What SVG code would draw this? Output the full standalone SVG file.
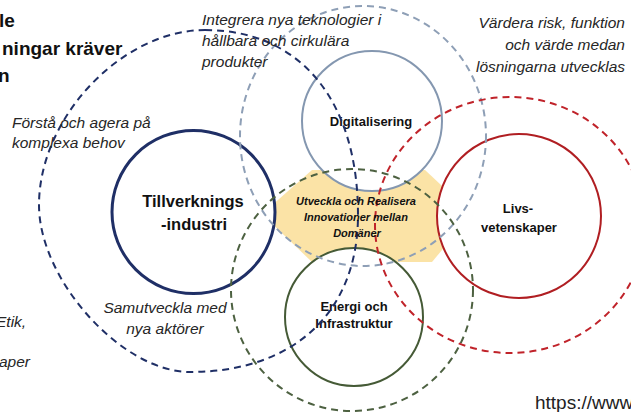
<svg xmlns="http://www.w3.org/2000/svg" width="631" height="412" viewBox="0 0 631 412">
<style>
.bg{fill:#ffffff}
.node{fill:#ffffff}
.lbl{font-family:"Liberation Sans",Arial,sans-serif;font-weight:bold;fill:#111;text-anchor:middle}
.it{font-family:"Liberation Sans",Arial,sans-serif;font-style:italic;font-size:15.5px;fill:#262626}
.title{font-family:"Liberation Sans",Arial,sans-serif;font-weight:bold;font-size:19px;fill:#111}
.dash{fill:none;stroke-width:2;stroke-dasharray:7 5}
</style>
<rect class="bg" x="0" y="0" width="631" height="412"/>

<g id="innovation">
  <polygon points="262,214 312,170 425,170 472,214 432,262 312,262" fill="#fbe3a6"/>
</g>

<g id="tillverkning">
  <circle class="node" cx="193.5" cy="212" r="81.5" stroke="#1f2f66" stroke-width="3"/>
  <text class="lbl" x="193" y="207" font-size="16.5">Tillverknings</text>
  <text class="lbl" x="194" y="230" font-size="16.5">-industri</text>
</g>
<g id="digitalisering">
  <circle class="node" cx="372" cy="121" r="70" stroke="#8497b0" stroke-width="2"/>
  <text class="lbl" x="371" y="126" font-size="13">Digitalisering</text>
</g>
<g id="livsvetenskaper">
  <circle class="node" cx="519" cy="216" r="82" stroke="#b01e22" stroke-width="2"/>
  <text class="lbl" x="518" y="213" font-size="13">Livs-</text>
  <text class="lbl" x="519" y="232" font-size="13">vetenskaper</text>
</g>
<g id="energi">
  <circle class="node" cx="354" cy="317" r="69" stroke="#455a36" stroke-width="2"/>
  <text class="lbl" x="354" y="311" font-size="13">Energi och</text>
  <text class="lbl" x="354" y="328" font-size="13">Infrastruktur</text>
</g>

<g id="zones">
  <ellipse class="dash" cx="363" cy="136" rx="123" ry="130" stroke="#8e9fb6"/>
  <circle class="dash" cx="352" cy="290" r="121" stroke="#4d6141"/>
  <ellipse class="dash" cx="510" cy="225" rx="135" ry="128" stroke="#c0232a"/>
  <path class="dash" d="M205,30 C300,30 358,100 358,215 C358,312 294,372 190,372 C122,372 39,280 39,205 C39,117.5 122,30 205,30 Z" stroke="#1f2f66"/>
</g>

<g id="innovation-label">
  <text class="lbl" font-style="italic" font-size="11" x="356" y="205">Utveckla och Realisera</text>
  <text class="lbl" font-style="italic" font-size="11" x="356" y="221">Innovationer mellan</text>
  <text class="lbl" font-style="italic" font-size="11" x="357" y="237">Domäner</text>
</g>

<g id="texts">
  <text class="title" x="-1" y="27">le</text>
  <text class="title" x="2" y="55">ningar kräver</text>
  <text class="title" x="-2" y="82">n</text>
  <text class="it" x="12" y="128">Förstå och agera på</text>
  <text class="it" x="12" y="148">komplexa behov</text>
  <text class="it" x="202" y="25">Integrera nya teknologier i</text>
  <text class="it" x="202" y="46">hållbara och cirkulära</text>
  <text class="it" x="202" y="67">produkter</text>
  <text class="it" x="625" y="28" text-anchor="end">Värdera risk, funktion</text>
  <text class="it" x="625" y="50" text-anchor="end">och värde medan</text>
  <text class="it" x="625" y="72" text-anchor="end">lösningarna utvecklas</text>
  <text class="it" x="165" y="313" text-anchor="middle">Samutveckla med</text>
  <text class="it" x="165" y="334" text-anchor="middle">nya aktörer</text>
  <text class="it" x="-4" y="327">Etik,</text>
  <text class="it" x="-1" y="367">aper</text>
  <text x="535" y="409" font-family="Liberation Sans,Arial,sans-serif" font-size="19" fill="#222">https://www</text>
</g>
</svg>
